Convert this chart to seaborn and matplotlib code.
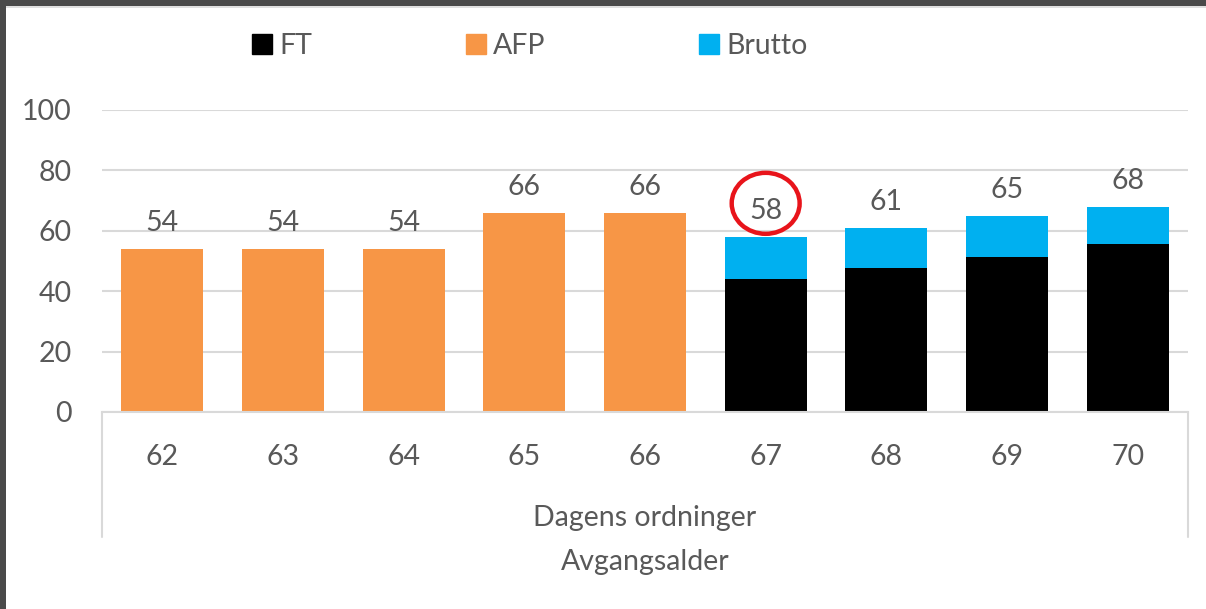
import matplotlib
matplotlib.use("Agg")
import matplotlib.pyplot as plt
import seaborn as sns
import pandas as pd
from matplotlib.patches import Patch, Ellipse, Rectangle

# -------------------------------
# Data
# -------------------------------
ages = ["62", "63", "64", "65", "66", "67", "68", "69", "70"]
afp = [54, 54, 54, 66, 66, None, None, None, None]
ft = [None, None, None, None, None, 44, 47.7, 51.3, 55.5]
brutto_total = [None, None, None, None, None, 58, 61, 65, 68]
y_ticks = [0, 20, 40, 60, 80, 100]
group_label = "Dagens ordninger"
axis_title = "Avgangsalder"

df = pd.DataFrame({"Alder": ages, "AFP": afp, "FT": ft, "Brutto": brutto_total})

C_FT = "#000000"
C_AFP = "#F79646"
C_BRUTTO = "#00B0F0"
TXT = "#595959"
GRID = "#D9D9D9"
FS = 20.5

sns.set_style("white")
plt.rcParams["font.family"] = ["Lato", "DejaVu Sans"]

fig = plt.figure(figsize=(12.06, 6.09), dpi=100)
ax = fig.add_axes([102 / 1206, 1 - 412 / 609, 1086 / 1206, 302 / 609])

# -------------------------------
# Bars: AFP, then Brutto (total) with FT drawn over it
# -------------------------------
common = dict(data=df, x="Alder", order=ages, width=0.68, saturation=1,
              errorbar=None, linewidth=0, ax=ax)
sns.barplot(y="AFP", color=C_AFP, **common)
sns.barplot(y="Brutto", color=C_BRUTTO, **common)
sns.barplot(y="FT", color=C_FT, **common)

for cont in ax.containers[:2]:
    ax.bar_label(cont, fmt="{:.0f}", padding=9, fontsize=FS, color=TXT)

ax.set_ylim(0, 100)
ax.set_yticks(y_ticks)
ax.yaxis.grid(True, color=GRID, lw=1.5)
ax.set_axisbelow(True)
for s in ["top", "left", "right"]:
    ax.spines[s].set_visible(False)
ax.spines["bottom"].set_color(GRID)
ax.spines["bottom"].set_linewidth(1.5)
ax.tick_params(axis="y", length=0, pad=22, labelsize=FS, labelcolor=TXT)
ax.tick_params(axis="x", length=0, pad=23, labelsize=FS, labelcolor=TXT)
ax.set_ylabel("")

# multi-level category separators
for xpos in [-0.5, len(ages) - 0.5]:
    ax.plot([xpos, xpos], [0, -41.4], color=GRID, lw=1.5, clip_on=False,
            scalex=False, scaley=False)

ax.text(0.5, -0.35, group_label, transform=ax.transAxes, ha="center",
        va="center", fontsize=FS, color=TXT)
ax.set_xlabel(axis_title, fontsize=FS, color=TXT, va="center")
ax.xaxis.set_label_coords(0.5, -0.497)

# red circle around the 67 label
ax.add_patch(Ellipse((5, 69.1), width=0.563, height=20.2, fill=False,
                     edgecolor="#E8141B", lw=3.2, clip_on=False))

# legend
handles = [Patch(color=C_FT, label="FT"),
           Patch(color=C_AFP, label="AFP"),
           Patch(color=C_BRUTTO, label="Brutto")]
fig.legend(handles=handles, loc="center left",
           bbox_to_anchor=(238 / 1206, 1 - 46 / 609), ncol=3, frameon=False,
           borderpad=0, handlelength=0.7, handleheight=0.7,
           handletextpad=0.25, columnspacing=5.4, fontsize=FS, labelcolor=TXT)

# dark frame at top and left
fig.add_artist(Rectangle((0, 1 - 6 / 609), 1, 6 / 609, transform=fig.transFigure,
                         color="#4A4A4A", lw=0))
fig.add_artist(Rectangle((0, 1 - 8 / 609), 1, 2 / 609, transform=fig.transFigure,
                         color="#E0E0E0", lw=0))
fig.add_artist(Rectangle((0, 0), 6 / 1206, 1, transform=fig.transFigure,
                         color="#4A4A4A", lw=0))

fig.savefig("out.png", dpi=100)
